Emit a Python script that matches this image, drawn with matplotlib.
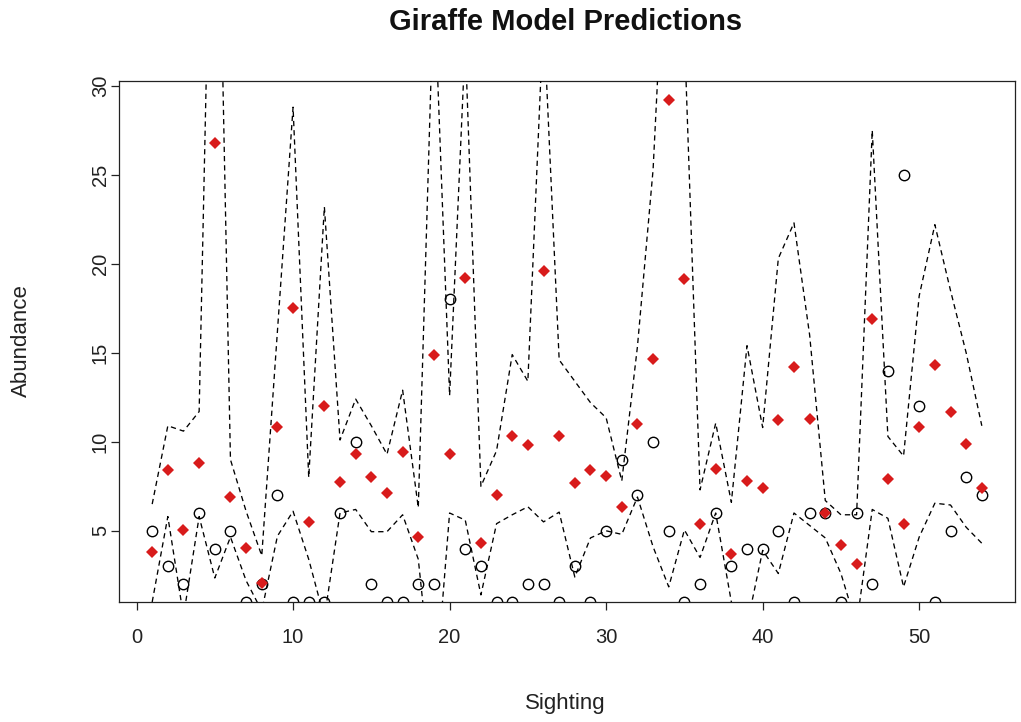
import numpy as np
import matplotlib
matplotlib.use('Agg')
import matplotlib.pyplot as plt

plt.rcParams['font.family'] = ['Liberation Sans', 'DejaVu Sans']

# sighting index and values
sighting = np.arange(1, 55)

observed = [5, 3, 2, 6, 4, 5, 1, 2, 7, 1,
            1, 1, 6, 10, 2, 1, 1, 2, 2, 18,
            4, 3, 1, 1, 2, 2, 1, 3, 1, 5,
            9, 7, 10, 5, 1, 2, 6, 3, 4, 4,
            5, 1, 6, 6, 1, 6, 2, 14, 25, 12,
            1, 5, 8, 7]

predicted = [3.8, 8.4, 5.05, 8.8, 26.8, 6.9, 4.05, 2.05, 10.85, 17.5,
             5.5, 12.0, 7.75, 9.3, 8.0, 7.1, 9.45, 4.65, 14.9, 9.3,
             19.2, 4.3, 7.0, 10.3, 9.8, 19.6, 10.3, 7.7, 8.4, 8.1,
             6.35, 11.0, 14.65, 29.2, 19.15, 5.4, 8.5, 3.7, 7.8, 7.4,
             11.2, 14.2, 11.3, 6.0, 4.2, 3.15, 16.9, 7.9, 5.4, 10.85,
             14.3, 11.7, 9.9, 7.4]

upper = [6.5, 10.9, 10.6, 11.7, 53, 9.0, 6.1, 3.6, 16.2, 28.8,
         8.0, 23.2, 10.1, 12.4, 10.9, 9.3, 12.9, 6.3, 36, 12.6,
         32.5, 7.5, 9.5, 14.9, 13.4, 34, 14.6, 13.4, 12.2, 11.35,
         7.8, 15.35, 25.3, 43, 33, 7.3, 11.05, 6.6, 15.4, 10.8,
         20.3, 22.3, 16.0, 6.7, 5.9, 5.9, 27.5, 10.3, 9.2, 18.2,
         22.2, 18.5, 15.0, 10.9]

lower = [1.0, 5.8, 0.2, 5.8, 2.35, 4.65, 2.2, 0.5, 4.7, 6.1,
         3.4, 0.1, 6.0, 6.2, 4.95, 4.95, 5.9, 3.4, -5, 6.0,
         5.6, 1.4, 5.4, 5.9, 6.35, 5.5, 6.05, 2.4, 4.6, 5.0,
         4.8, 6.9, 4.1, 1.85, 5.05, 3.5, 6.0, 1.0, -0.3, 3.9,
         2.6, 6.0, 5.3, 4.6, 2.6, -0.3, 6.2, 5.7, 1.85, 4.65,
         6.55, 6.45, 5.2, 4.3]

W, H = 1021, 722
fig = plt.figure(figsize=(W / 100, H / 100), dpi=100)
ax = fig.add_axes([119 / W, 1 - 602 / H, (1015 - 119) / W, (602 - 81) / H])

dash = (0, (4, 3))
ax.plot(sighting, observed, 'o', mfc='none', mec='black', ms=7.5, mew=1.0, zorder=2)
ax.plot(sighting, upper, color='black', lw=0.95, ls=dash, zorder=3)
ax.plot(sighting, lower, color='black', lw=0.95, ls=dash, zorder=3)
ax.plot(sighting, predicted, 'D', color='#d81b1b', ms=6.0, mew=0, zorder=4)

ax.set_xlim(-1.12, 56.12)
ax.set_ylim(1.0, 30.27)
ax.set_xticks([0, 10, 20, 30, 40, 50])
ax.set_yticks([5, 10, 15, 20, 25, 30])
ax.tick_params(direction='out', length=5.5, width=0.9, colors='#222222',
               labelsize=14.5, labelcolor='#222222')
ax.tick_params(axis='x', pad=13)
ax.tick_params(axis='y', pad=1)
for lab in ax.get_yticklabels():
    lab.set_rotation(90)
    lab.set_va('center')
for sp in ax.spines.values():
    sp.set_linewidth(0.9)
    sp.set_color('#222222')

fig.text(0.5535, 1 - 22 / H, 'Giraffe Model Predictions', ha='center', va='center',
         fontsize=21, fontweight='bold', color='#111111')
fig.text(0.5535, 1 - 703 / H, 'Sighting', ha='center', va='center',
         fontsize=16, color='#222222')
fig.text(21 / W, 1 - 341 / H, 'Abundance', ha='center', va='center',
         fontsize=16, rotation=90, color='#222222')

fig.savefig('out.png', dpi=100)
